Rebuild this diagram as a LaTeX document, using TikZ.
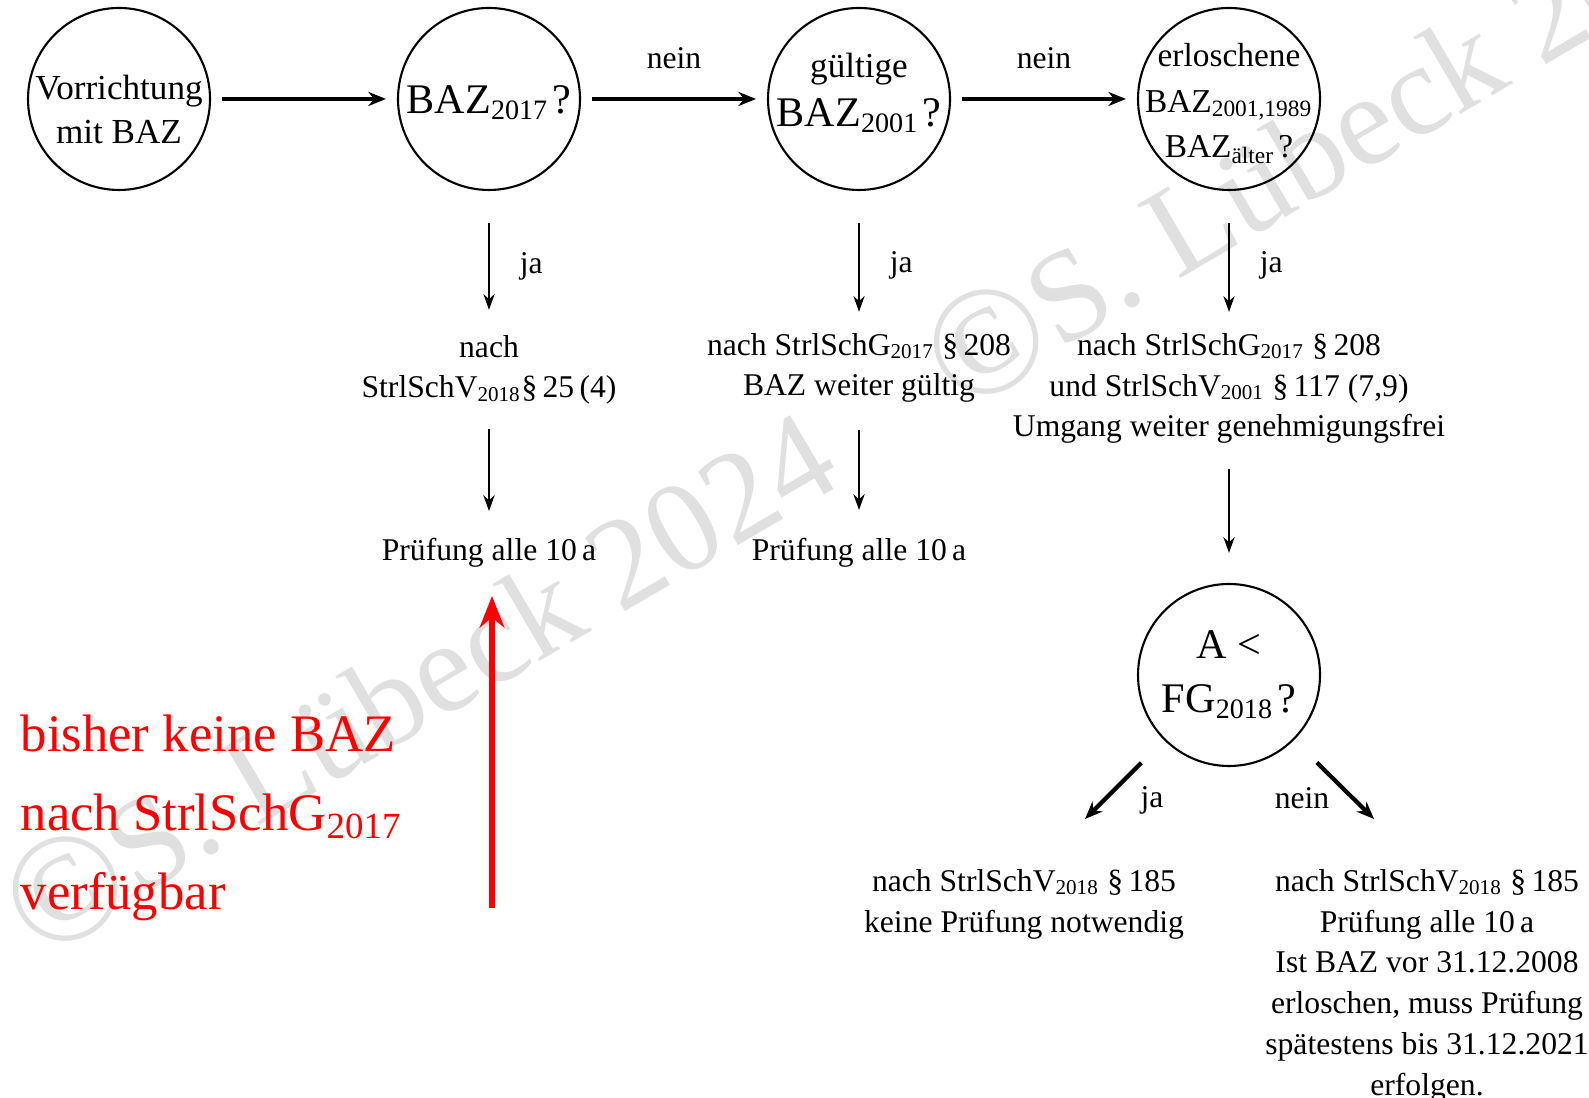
\documentclass[tikz,border=0pt]{standalone}
\usepackage{fontspec}
\setmainfont{Liberation Serif}
\usetikzlibrary{arrows.meta, positioning}

\newcommand{\copyzeichen}{\raisebox{-2pt}{\fontsize{44}{44}\selectfont\textcopyright}}

\begin{document}
\begin{tikzpicture}[
    frage/.style={draw, circle, line width=0.6pt, minimum size=1.82cm, inner sep=-2mm, align=center},
    info/.style={align=center, font=\fontsize{9}{11.6}\selectfont},
    lbl/.style={font=\fontsize{9}{11.6}\selectfont},
    pfeil/.style={-{Stealth[length=5pt, width=4pt]}, line width=1.2pt},
    pfeilduenn/.style={-{Stealth[length=4.5pt, width=3.2pt]}, line width=0.6pt},
    rotpfeil/.style={-{Stealth[length=9pt, width=7pt]}, line width=1.8pt, red},
    wasserzeichen/.style={text=black!12, rotate=30.4, font=\fontsize{37}{37}\selectfont},
]
    \useasboundingbox (0,0) rectangle (15.89,10.98);

    % Wasserzeichen
    \node[wasserzeichen] (wz1) at (4.19,4.16) {\copyzeichen S. Lübeck 2024};
    \node[wasserzeichen] (wz2) at (13.40,9.63) {\copyzeichen S. Lübeck 2024};

    % obere Reihe
    \node[frage, font=\fontsize{10}{12.4}\selectfont] (start) at (1.19,9.99) {\rule{0pt}{13pt}Vorrichtung\\mit BAZ};
    \node[frage, font=\fontsize{12}{14}\selectfont] (baz17) at (4.89,9.99) {\rule{0pt}{10pt}BAZ\textsubscript{2017}\kern1pt?};
    \node[frage, font=\fontsize{12}{14}\selectfont] (baz01) at (8.59,9.99) {{\fontsize{10}{14}\selectfont gültige}\\BAZ\textsubscript{2001}\kern1pt?\rule[-5.4pt]{0pt}{0pt}};
    \node[frage, font=\fontsize{9.5}{13}\selectfont] (bazalt) at (12.29,9.99) {\rule{0pt}{9pt}erloschene\\BAZ\textsubscript{2001,1989}\\BAZ\textsubscript{älter}\kern1pt?};

    \draw[pfeil, shorten <=0.11cm, shorten >=0.11cm] (start) -- (baz17);
    \draw[pfeil, shorten <=0.11cm, shorten >=0.11cm] (baz17) -- node[lbl, above=0.16cm] {nein} (baz01);
    \draw[pfeil, shorten <=0.11cm, shorten >=0.11cm] (baz01) -- node[lbl, above=0.16cm] {nein} (bazalt);

    % mittlere Reihe
    \node[info] (t17) at (4.89,7.28) {nach\\StrlSchV\textsubscript{2018}\S\,25\,(4)};
    \node[info] (t01) at (8.59,7.30) {nach StrlSchG\textsubscript{2017} \S\,208\\BAZ weiter gültig};
    \node[info] (talt) at (12.29,7.095) {nach StrlSchG\textsubscript{2017} \S\,208\\und StrlSchV\textsubscript{2001} \S\,117 (7,9)\\Umgang weiter genehmigungsfrei};

    \draw[pfeilduenn, shorten <=0.32cm, shorten >=0.13cm] (baz17) -- node[lbl, pos=0.57, right=0.18cm] {ja} (t17);
    \draw[pfeilduenn, shorten <=0.32cm, shorten >=0.09cm] (baz01) -- node[lbl, pos=0.57, right=0.18cm] {ja} (t01);
    \draw[pfeilduenn, shorten <=0.32cm, shorten >=0.09cm] (bazalt) -- node[lbl, pos=0.57, right=0.18cm] {ja} (talt);

    \node[info] (p17) at (4.89,5.45) {Prüfung alle 10\,a};
    \node[info] (p01) at (8.59,5.45) {Prüfung alle 10\,a};
    \node[frage, font=\fontsize{12}{15.2}\selectfont] (fg) at (12.29,4.23) {A <\\FG\textsubscript{2018}\kern1pt?};

    \draw[pfeilduenn, shorten <=0.12cm, shorten >=0.15cm] (t17) -- (p17);
    \draw[pfeilduenn, shorten <=0.15cm, shorten >=0.16cm] (t01) -- (p01);
    \draw[pfeilduenn, shorten <=0.13cm, shorten >=0.30cm] (talt) -- (fg);

    % untere Reihe
    \node[info, anchor=north] (frei) at (10.24,2.41) {nach StrlSchV\textsubscript{2018} \S\,185\\keine Prüfung notwendig};
    \node[info, anchor=north] (pflicht) at (14.27,2.41) {nach StrlSchV\textsubscript{2018} \S\,185\\Prüfung alle 10\,a\\Ist BAZ vor 31.12.2008\\erloschen, muss Prüfung\\spätestens bis 31.12.2021\\erfolgen.};

    \coordinate (jaende) at (10.85,2.79);
    \coordinate (neinende) at (13.74,2.79);
    \draw[pfeil, shorten <=0.32cm] (fg.-135) -- node[lbl, pos=0.7, right=0.18cm, yshift=-0.05cm] {ja} (jaende);
    \draw[pfeil, shorten <=0.32cm] (fg.-45) -- node[lbl, pos=0.7, left=0.07cm, yshift=-0.03cm] {nein} (neinende);

    % Hinweis in rot
    \node[anchor=west, inner sep=0pt, align=left, text=red, font=\fontsize{15}{22.4}\selectfont] (hinweis) at (0.20,2.80)
        {bisher keine BAZ\\nach StrlSchG\textsubscript{2017}\\verfügbar};
    \coordinate (rotfuss) at (4.92,1.90);
    \draw[rotpfeil, shorten >=0.16cm] (rotfuss) -- (rotfuss |- p17.south);
\end{tikzpicture}
\end{document}
